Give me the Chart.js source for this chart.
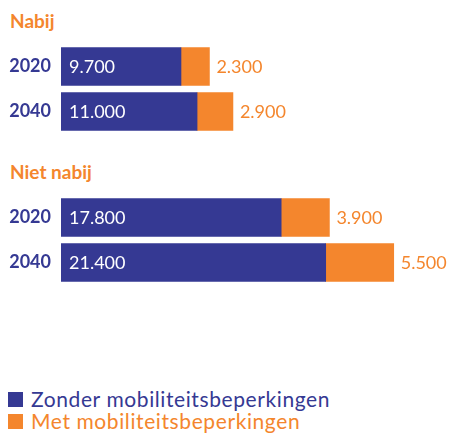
<!DOCTYPE html>
<html>
<head>
<meta charset="utf-8">
<script src="https://cdn.jsdelivr.net/npm/chart.js@4"></script>
<style>
  html, body { margin: 0; padding: 0; background: #fff; }
  body { width: 463px; height: 433px; position: relative; overflow: hidden; font-family: Lato, sans-serif; }
  .group-title { position: absolute; left: 10px; color: #f4862d; font-weight: 700; font-size: 19px; line-height: 20px; }
  canvas { position: absolute; left: 0; }
  .legend { position: absolute; left: 8px; top: 388px; font-size: 21px; line-height: 22px; letter-spacing: 0.6px; }
  .legend div { display: flex; align-items: center; }
  .legend span.box { display: inline-block; width: 15px; height: 15px; margin-right: 8px; }
</style>
</head>
<body>
<div class="group-title" id="title-0" style="top:11px"></div>
<canvas id="chart-0" width="463" height="90" style="top:44px"></canvas>
<div class="group-title" id="title-1" style="top:162px"></div>
<canvas id="chart-1" width="463" height="90" style="top:195px"></canvas>
<div class="legend" id="legend"></div>

<script>
  const groups = ['Nabij', 'Niet nabij'];
  const years = ['2020', '2040'];
  const zonderNabij = [9700, 11000];
  const metNabij = [2300, 2900];
  const zonderNietNabij = [17800, 21400];
  const metNietNabij = [3900, 5500];
  const seriesNames = ['Zonder mobiliteitsbeperkingen', 'Met mobiliteitsbeperkingen'];

  const NAVY = '#353993';
  const ORANGE = '#f4862d';
  const X_MAX = 32500;

  const formatNl = (v) => String(v).replace(/\B(?=(\d{3})+(?!\d))/g, '.');

  // draws the white value inside the navy bar and the orange value after the bar
  const valueLabels = {
    id: 'valueLabels',
    afterDatasetsDraw(chart) {
      const ctx = chart.ctx;
      ctx.save();
      ctx.font = '18px Lato';
      ctx.textBaseline = 'middle';
      ctx.textAlign = 'left';
      chart.data.datasets.forEach((ds, i) => {
        chart.getDatasetMeta(i).data.forEach((bar, j) => {
          if (i === 0) {
            ctx.fillStyle = '#fff';
            ctx.fillText(formatNl(ds.data[j]), bar.base + 8, bar.y + 1);
          } else {
            ctx.fillStyle = ORANGE;
            ctx.fillText(formatNl(ds.data[j]), bar.x + 7, bar.y + 1);
          }
        });
      });
      ctx.restore();
    }
  };

  function renderGroup(idx, zonder, met) {
    document.getElementById(`title-${idx}`).textContent = groups[idx];
    new Chart(document.getElementById(`chart-${idx}`), {
      type: 'bar',
      data: {
        labels: years,
        datasets: [
          { label: seriesNames[0], data: zonder, backgroundColor: NAVY, barThickness: 38, borderWidth: 0 },
          { label: seriesNames[1], data: met, backgroundColor: ORANGE, barThickness: 38, borderWidth: 0 }
        ]
      },
      options: {
        indexAxis: 'y',
        responsive: false,
        animation: false,
        layout: { padding: 0 },
        scales: {
          x: { stacked: true, min: 0, max: X_MAX, display: false },
          y: {
            stacked: true,
            grid: { display: false, drawTicks: false },
            border: { display: false },
            ticks: { color: NAVY, padding: 10, font: { family: 'Lato', size: 18, weight: 'bold' } },
            afterFit: (scale) => {
              scale.width = 61;
              // no half-label padding above/below, bars fill the whole canvas height
              scale.paddingTop = 0;
              scale.paddingBottom = 0;
            }
          }
        },
        plugins: {
          legend: { display: false },
          tooltip: { enabled: false }
        }
      },
      plugins: [valueLabels]
    });
  }

  renderGroup(0, zonderNabij, metNabij);
  renderGroup(1, zonderNietNabij, metNietNabij);

  const legend = document.getElementById('legend');
  [NAVY, ORANGE].forEach((color, i) => {
    const row = document.createElement('div');
    row.style.color = color;
    row.innerHTML = `<span class="box" style="background:${color}"></span>${seriesNames[i]}`;
    legend.appendChild(row);
  });
</script>
</body>
</html>
